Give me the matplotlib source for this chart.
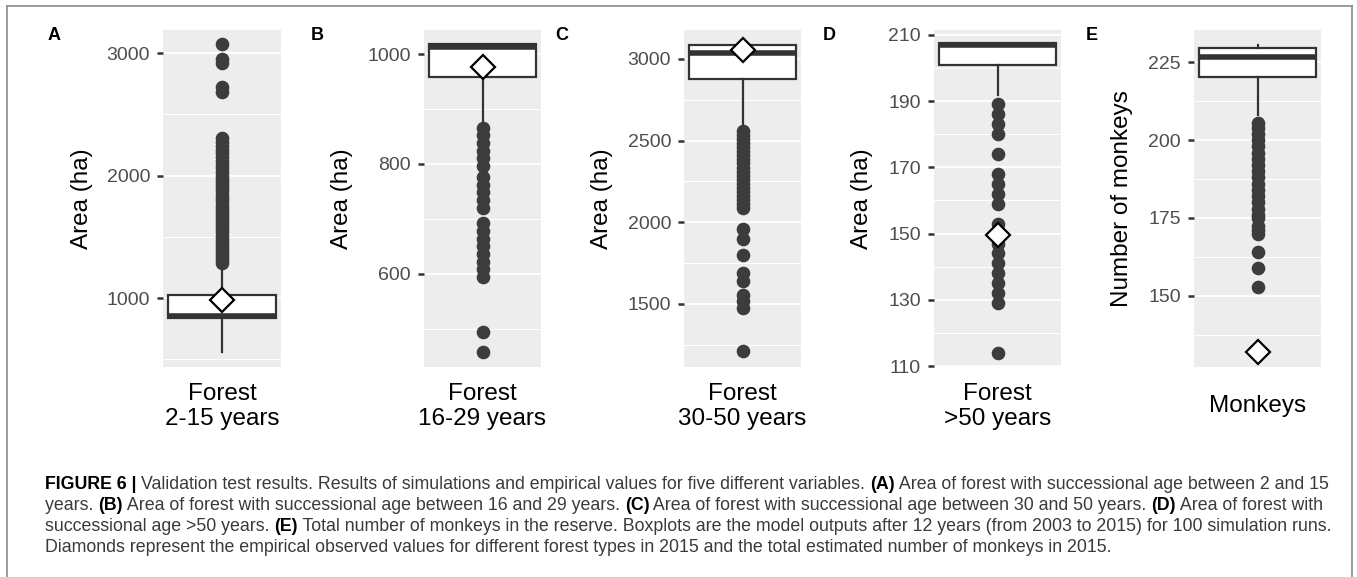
import matplotlib
matplotlib.use("Agg")
import matplotlib.pyplot as plt
import numpy as np
from matplotlib.ticker import FixedLocator
from matplotlib.lines import Line2D

# ---------------- data ----------------
panel_letters = ["A", "B", "C", "D", "E"]
x_labels = ["Forest\n2-15 years", "Forest\n16-29 years", "Forest\n30-50 years",
            "Forest\n>50 years", "Monkeys"]
y_labels = ["Area (ha)", "Area (ha)", "Area (ha)", "Area (ha)", "Number of monkeys"]

whisker_low = [559, 876, 2584, 192, 208]
q1 = [838, 958, 2878, 201, 220.2]
median = [855, 1013, 3037, 207, 226.5]
q3 = [1025, 1018, 3086, 207.5, 229.5]
whisker_high = [1253, 1018, 3086, 207.5, 230.5]

outliers_A = [1290, 1310, 1335, 1360, 1385, 1410, 1435, 1460, 1485, 1510, 1535, 1560,
              1585, 1610, 1635, 1660, 1685, 1710, 1735, 1760, 1790, 1815, 1840, 1870,
              1895, 1920, 1950, 1975, 2000, 2030, 2060, 2090, 2120, 2150, 2180, 2210,
              2240, 2275, 2310, 2680, 2720, 2920, 2950, 3070]
outliers_B = [866, 852, 838, 824, 810, 796, 776, 762, 748, 734, 720, 692, 678, 664,
              650, 636, 622, 608, 594, 494, 458]
outliers_C = [2560, 2535, 2510, 2485, 2460, 2435, 2410, 2385, 2360, 2335, 2310, 2285,
              2260, 2235, 2210, 2185, 2160, 2135, 2110, 2090, 1960, 1900, 1800, 1690,
              1640, 1555, 1515, 1475, 1210]
outliers_D = [189, 186, 183, 180, 174, 168, 165, 162, 159, 153, 150, 147, 144, 141,
              138, 135, 132, 129, 114]
outliers_E = [205.5, 204, 202, 200, 198, 196, 194, 192, 190, 188, 186, 184, 182, 180,
              178, 176, 175, 172.5, 171, 170, 164, 159, 153]
outliers = [outliers_A, outliers_B, outliers_C, outliers_D, outliers_E]

observed = [985, 976, 3055, 149.5, 132]

major_ticks = [[1000, 2000, 3000], [600, 800, 1000], [1500, 2000, 2500, 3000],
               [110, 130, 150, 170, 190, 210], [150, 175, 200, 225]]
minor_ticks = [[500, 1500, 2500], [500, 700, 900], [1250, 1750, 2250, 2750],
               [120, 140, 160, 180, 200], [137.5, 162.5, 187.5, 212.5]]
y_limits = [(437, 3188), (430, 1044), (1114, 3177), (109.7, 211.5), (127.2, 235.3)]

caption_lines = [
    [("FIGURE 6 | ", True), ("Validation test results. Results of simulations and empirical values for five different variables. ", False),
     ("(A)", True), (" Area of forest with successional age between 2 and 15", False)],
    [("years. ", False), ("(B)", True), (" Area of forest with successional age between 16 and 29 years. ", False),
     ("(C)", True), (" Area of forest with successional age between 30 and 50 years. ", False),
     ("(D)", True), (" Area of forest with", False)],
    [("successional age >50 years. ", False), ("(E)", True),
     (" Total number of monkeys in the reserve. Boxplots are the model outputs after 12 years (from 2003 to 2015) for 100 simulation runs.", False)],
    [("Diamonds represent the empirical observed values for different forest types in 2015 and the total estimated number of monkeys in 2015.", False)],
]

# ---------------- layout ----------------
W, H = 1357, 577
plt.rcParams["font.family"] = ["Liberation Sans", "DejaVu Sans"]
fig = plt.figure(figsize=(W / 100, H / 100), dpi=100)
fig.patch.set_facecolor("white")

axes_px = [(163, 281), (424, 541), (684, 801), (934, 1061), (1194, 1321)]
ylabel_x = [82, 342, 602, 862, 1122]
letter_x = [54, 317, 562, 829, 1092]
top_px, bot_px = 30, 367

dark = "#333333"
for i in range(5):
    x0, x1 = axes_px[i]
    ax = fig.add_axes([x0 / W, 1 - bot_px / H, (x1 - x0) / W, (bot_px - top_px) / H])
    ax.set_facecolor("#EDEDED")
    for s in ax.spines.values():
        s.set_visible(False)
    stats = dict(whislo=whisker_low[i], q1=q1[i], med=median[i], q3=q3[i],
                 whishi=whisker_high[i], fliers=np.array(outliers[i]))
    ax.bxp([stats], positions=[1], widths=0.92, showfliers=True, showcaps=False,
           patch_artist=True,
           boxprops=dict(facecolor="white", edgecolor=dark, linewidth=1.6),
           medianprops=dict(color=dark, linewidth=4, solid_capstyle="butt"),
           whiskerprops=dict(color=dark, linewidth=1.6),
           flierprops=dict(marker="o", markerfacecolor="#3c3c3c",
                           markeredgecolor="#3c3c3c", markersize=8.8, linestyle="none"))
    ax.plot([1], [observed[i]], marker="D", markersize=12, markerfacecolor="white",
            markeredgecolor="black", markeredgewidth=1.6, linestyle="none", zorder=6)
    ax.set_xlim(0.5, 1.5)
    ax.set_ylim(*y_limits[i])
    ax.yaxis.set_major_locator(FixedLocator(major_ticks[i]))
    ax.yaxis.set_minor_locator(FixedLocator(minor_ticks[i]))
    ax.set_yticklabels([str(v) for v in major_ticks[i]])
    ax.set_axisbelow(True)
    ax.grid(True, which="major", axis="y", color="white", linewidth=1.3)
    ax.grid(True, which="minor", axis="y", color="white", linewidth=0.8)
    ax.set_xticks([])
    ax.tick_params(axis="y", which="major", length=4.3, width=1.8, color=dark,
                   pad=5, labelsize=14, labelcolor="#4D4D4D")
    ax.tick_params(axis="y", which="minor", length=0)
    ax.text(0.5, -0.117, x_labels[i], transform=ax.transAxes, ha="center", va="center",
            fontsize=17.5, color="black", linespacing=1.2)
    fig.text(ylabel_x[i] / W, 1 - 199 / H, y_labels[i], rotation=90, ha="center",
             va="center", fontsize=17.5, color="black")
    fig.text(letter_x[i] / W, 1 - 35 / H, panel_letters[i], ha="center", va="center",
             fontsize=13, fontweight="bold", color="black")

# border
for (xa, ya, xb, yb) in [(7, 6, 1352, 6), (7, 6, 7, 577), (1352, 6, 1352, 577)]:
    fig.add_artist(Line2D([xa / W, xb / W], [1 - ya / H, 1 - yb / H],
                          transform=fig.transFigure, color="#8a8a8a", linewidth=1.2))

# caption with mixed bold segments
renderer = fig.canvas.get_renderer()
start_x = 45
baselines = [489, 510, 531, 552]
target_w = 1333 - start_x


def draw_line(segs, yb, fs, keep=True):
    x = start_x
    arts = []
    for txt, bold in segs:
        t = fig.text(x / W, 1 - yb / H, txt, ha="left", va="baseline", fontsize=fs,
                     fontweight="bold" if bold else "normal",
                     color="black" if bold else "#3a3a3a")
        bb = t.get_window_extent(renderer)
        x = bb.x1
        arts.append(t)
    width = x - start_x
    if not keep:
        for a in arts:
            a.remove()
    return width


fs0 = 13
w0 = draw_line(caption_lines[2], baselines[2], fs0, keep=False)
fs = fs0 * target_w / w0
for segs, yb in zip(caption_lines, baselines):
    draw_line(segs, yb, fs)

fig.savefig("out.png", dpi=100, facecolor="white")
